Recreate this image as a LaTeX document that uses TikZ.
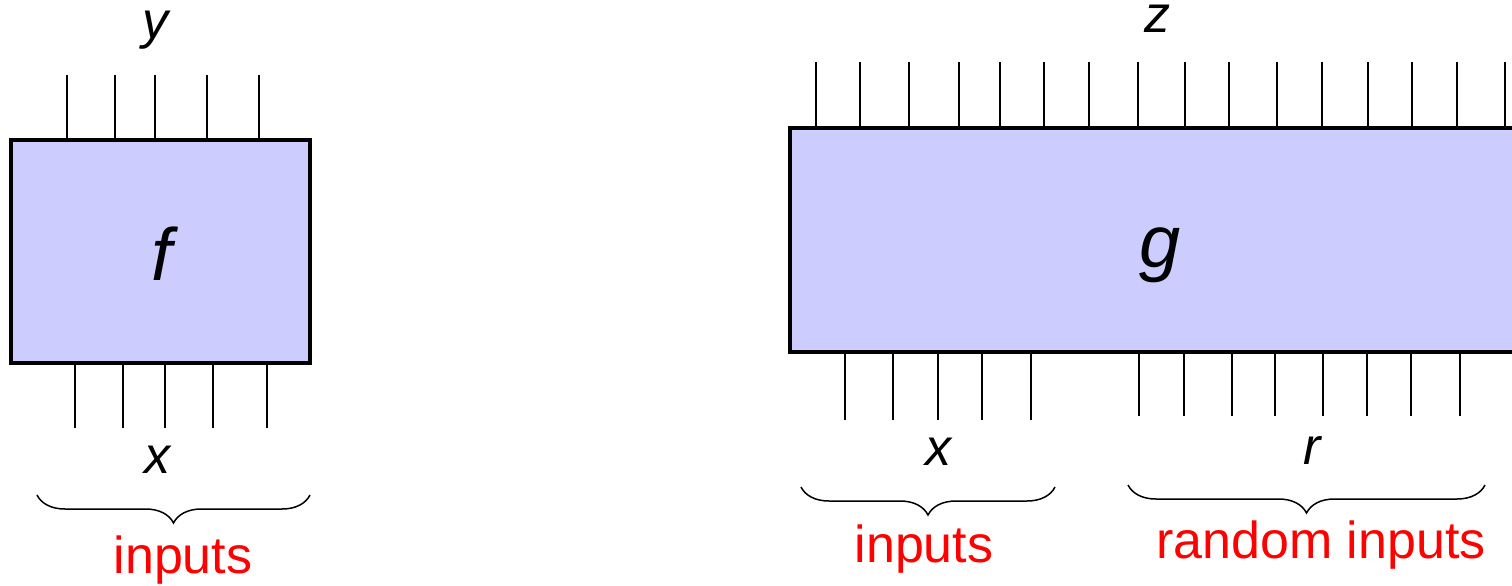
\documentclass[tikz,border=0pt]{standalone}
\usepackage{fontspec}
\setmainfont{Liberation Sans}
\usetikzlibrary{decorations.pathreplacing}
\definecolor{boxfill}{HTML}{CCCCFF}
\begin{document}
\begin{tikzpicture}[x=1pt,y=-1pt,
  blk/.style={draw,line width=3.5pt,fill=boxfill,inner sep=0pt,outer sep=0pt},
  wire/.style={line width=1.5pt},
  var/.style={font=\fontsize{52}{60}\selectfont\itshape,inner sep=0pt,anchor=base},
  big/.style={font=\fontsize{74}{80}\selectfont\itshape,inner sep=0pt,anchor=base},
  lbl/.style={text=red,font=\fontsize{52}{60}\selectfont,inner sep=0pt,anchor=base},
  brc/.style={decorate,decoration={brace,mirror,amplitude=28pt},line width=1.5pt}]
\useasboundingbox (0,0) rectangle (1512,586);
% box f
\node[blk,minimum width=299pt,minimum height=223pt] (f) at (160.5,251.5) {};
\node[big] (fl) at (162,280) {f};
\foreach \x [count=\i] in {67,115,155,207,259}{
  \coordinate (ft\i) at (\x,75);
  \draw[wire] (f.north -| ft\i) -- (ft\i);
}
\foreach \x [count=\i] in {75,123,165,213,267}{
  \coordinate (fb\i) at (\x,428);
  \draw[wire] (f.south -| fb\i) -- (fb\i);
}
\node[var] (yl) at (155,39) {y};
\node[var] (xl) at (157,473) {x};
\coordinate (fbrA) at (37,495);
\coordinate (fbrB) at (310,495);
\draw[brc] (fbrA) -- (fbrB);
\node[lbl] (fin) at (183,573) {inputs};
% box g
\node[blk,minimum width=740pt,minimum height=224pt] (g) at (1160,240) {};
\node[big] (gl) at (1160,267) {g};
\foreach \x [count=\i] in {816,860,909,959,1000,1044,1089,1138,1185,1229,1277,1322,1368,1412,1457,1505}{
  \coordinate (gt\i) at (\x,62);
  \draw[wire] (g.north -| gt\i) -- (gt\i);
}
\foreach \x [count=\i] in {845,893,938,982,1031}{
  \coordinate (gx\i) at (\x,420);
  \draw[wire] (g.south -| gx\i) -- (gx\i);
}
\foreach \x [count=\i] in {1139,1184,1232,1275,1323,1367,1411,1460}{
  \coordinate (gr\i) at (\x,416);
  \draw[wire] (g.south -| gr\i) -- (gr\i);
}
\node[var] (zl) at (1157,33) {z};
\node[var] (gxl) at (938,465) {x};
\node[var] (grl) at (1312,464) {r};
\coordinate (gbrA) at (801,487);
\coordinate (gbrB) at (1055,487);
\draw[brc] (gbrA) -- (gbrB);
\coordinate (rbrA) at (1128,485);
\coordinate (rbrB) at (1485,485);
\draw[brc] (rbrA) -- (rbrB);
\node[lbl] (gin) at (924,562) {inputs};
\node[lbl] (rin) at (1321,558) {random inputs};
\end{tikzpicture}
\end{document}
